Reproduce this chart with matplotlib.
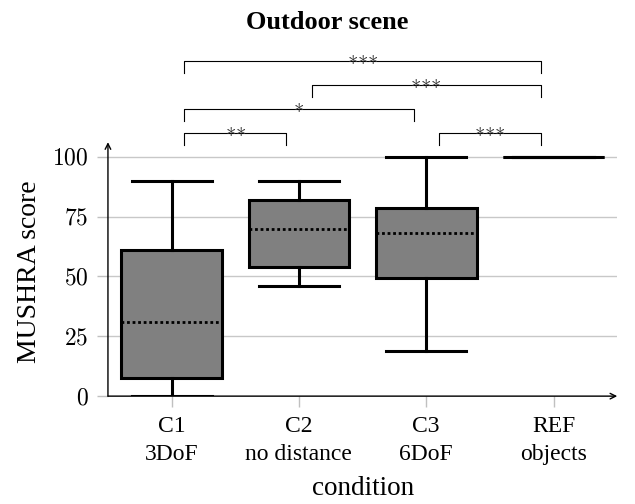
import matplotlib
matplotlib.use("Agg")
import matplotlib.pyplot as plt

plt.rcParams['font.family'] = ['Liberation Serif', 'DejaVu Serif']
plt.rcParams['mathtext.fontset'] = 'cm'

categories = ["C1\n3DoF", "C2\nno distance", "C3\n6DoF", "REF\nobjects"]
whislo = [0, 46, 19, 100]
q1 = [7.5, 54, 49.5, 100]
med = [31, 70, 68, 100]
q3 = [61, 82, 78.5, 100]
whishi = [90, 90, 100, 100]
yticks = [0, 25, 50, 75, 100]

# significance brackets: (left index, right index, level value, label)
sig_left = [1, 3, 1, 2, 1]
sig_right = [2, 4, 3, 4, 4]
sig_level = [110, 110, 120, 130, 140]
sig_label = ["**", "***", "*", "***", "***"]

fig = plt.figure(figsize=(6.35, 5.04), dpi=100)
ax = fig.add_axes([0.170, 0.214, 0.802, 0.494])

stats = []
for i in range(len(categories)):
    stats.append(dict(whislo=whislo[i], q1=q1[i], med=med[i], q3=q3[i],
                      whishi=whishi[i], fliers=[]))
pos = list(range(1, len(categories) + 1))
ax.bxp(stats, positions=pos, widths=0.79, patch_artist=True, showfliers=False,
       boxprops=dict(facecolor='#808080', edgecolor='black', linewidth=2.2),
       medianprops=dict(color='black', linewidth=2, linestyle=(0, (1, 1))),
       whiskerprops=dict(color='black', linewidth=2.2),
       capprops=dict(color='black', linewidth=2.2), capwidths=0.63, zorder=3)

ax.set_xlim(0.5, 4.5)
ax.set_ylim(0, 104)
ax.set_yticks(yticks)
ax.set_yticklabels([r'$%d$' % v for v in yticks], fontsize=17)
ax.set_xticks(pos)
ax.set_xticklabels(categories, fontsize=17, linespacing=1.45)
ax.tick_params(axis='both', color='#c0c0c0', length=8, width=1)
ax.tick_params(axis='x', pad=6)
ax.tick_params(axis='y', pad=6)
ax.grid(axis='y', color='#c8c8c8', linewidth=1, zorder=0)
ax.set_axisbelow(True)
for s in ['top', 'right', 'left', 'bottom']:
    ax.spines[s].set_visible(False)
ax.annotate('', xy=(0, 1.02), xytext=(0, 0), xycoords='axes fraction',
            arrowprops=dict(arrowstyle='->', lw=1, color='black', shrinkA=0, shrinkB=0))
ax.annotate('', xy=(1.0, 0), xytext=(0, 0), xycoords='axes fraction',
            arrowprops=dict(arrowstyle='->', lw=1, color='black', shrinkA=0, shrinkB=0))

ax.set_ylabel('MUSHRA score', fontsize=20, labelpad=7)
ax.set_xlabel('condition', fontsize=19.5, labelpad=8)

for l, r, lev, lab in zip(sig_left, sig_right, sig_level, sig_label):
    xl = l + 0.1
    xr = r - 0.1
    ax.plot([xl, xl, xr, xr], [lev - 5, lev, lev, lev - 5], color='black',
            lw=0.8, clip_on=False)
    ax.text((xl + xr) / 2, lev + 0.5, r'$' + r'{\ast}' * len(lab) + r'$', ha='center',
            va='center', fontsize=15, color='#333333', clip_on=False)

fig.text(0.515, 0.956, 'Outdoor scene', ha='center', va='center', fontsize=19,
         fontweight='bold')

fig.savefig('out.png', dpi=100)
